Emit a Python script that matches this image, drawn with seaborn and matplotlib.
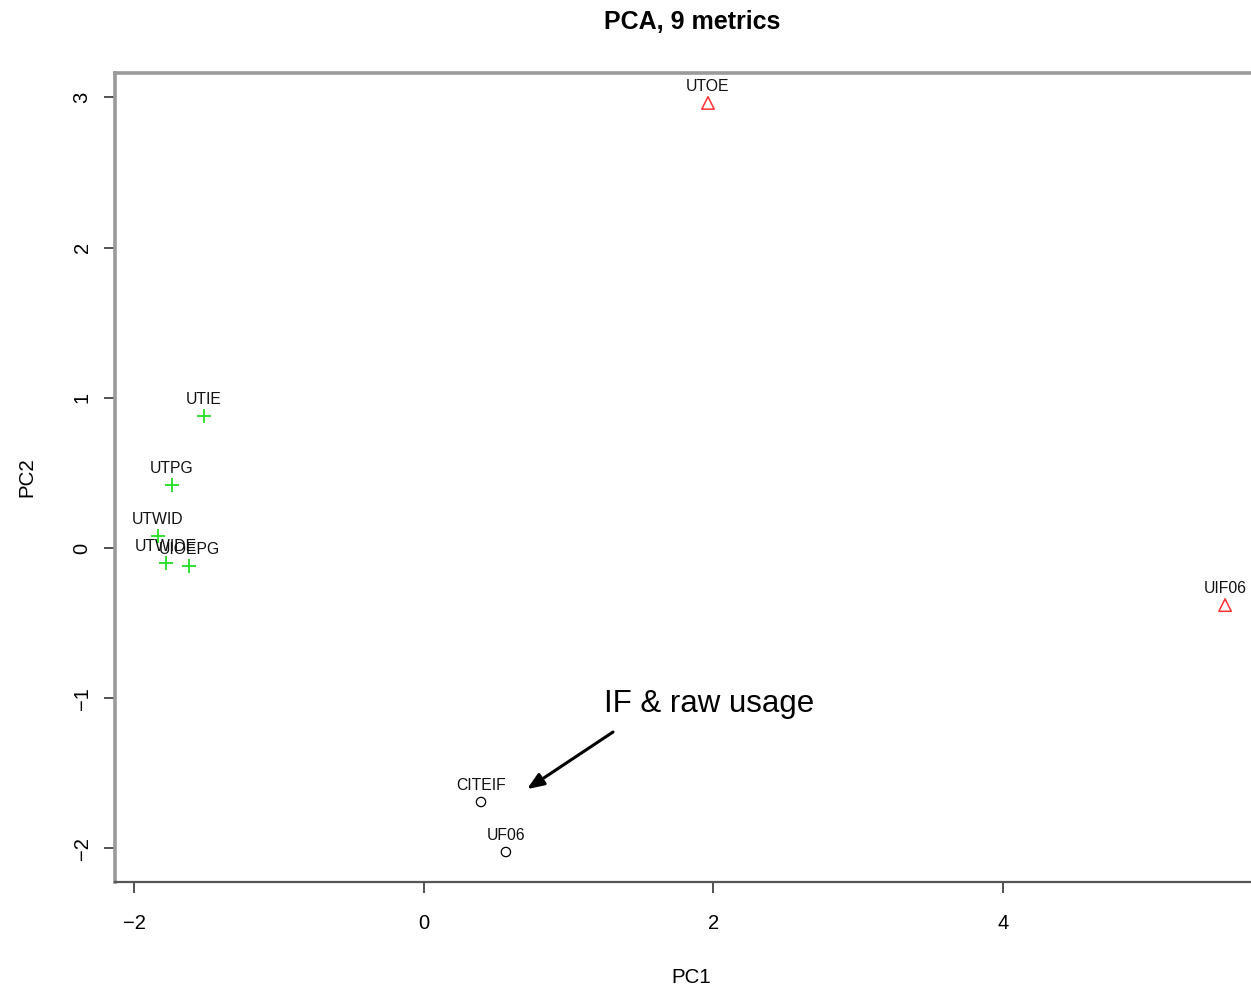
import matplotlib
matplotlib.use("Agg")
import matplotlib.pyplot as plt
import seaborn as sns
import pandas as pd

# ---- data ----
names = ["UTOE", "UIF06", "UTIE", "UTPG", "UTWID", "UTWIDE", "UIOEPG", "CITEIF", "UF06"]
pc1 = [1.962, 5.534, -1.520, -1.741, -1.838, -1.782, -1.623, 0.394, 0.566]
pc2 = [2.963, -0.380, 0.879, 0.419, 0.080, -0.100, -0.120, -1.691, -2.024]
groups = ["usage", "usage", "time", "time", "time", "time", "time", "cite", "cite"]

x_ticks = [-2, 0, 2, 4]
y_ticks = [-2, -1, 0, 1, 2, 3]
annot_text = "IF & raw usage"
annot_text_xy = (1.243, -1.04)
annot_arrow_from = (1.306, -1.225)
annot_arrow_to = (0.712, -1.605)

df = pd.DataFrame({"PC1": pc1, "PC2": pc2, "name": names, "group": groups})

sns.set_style("white")
plt.rcParams["font.family"] = ["Liberation Sans", "DejaVu Sans"]
plt.rcParams["text.color"] = "black"
plt.rcParams["axes.labelcolor"] = "black"
plt.rcParams["xtick.color"] = "black"
plt.rcParams["ytick.color"] = "black"

fig = plt.figure(figsize=(12.51, 9.89), dpi=100)
ax = fig.add_axes([0.0921, 0.1082, 0.9213, 0.818])

palette = {"usage": "#ff3030", "time": "#22dd22", "cite": "#000000"}

for g, sub in df.groupby("group"):
    if g == "time":
        sns.scatterplot(data=sub, x="PC1", y="PC2", ax=ax, marker="+", s=110,
                        color=palette[g], linewidth=1.3, legend=False)
    elif g == "usage":
        sns.scatterplot(data=sub, x="PC1", y="PC2", ax=ax, marker="^", s=80,
                        facecolor="none", edgecolor=palette[g], linewidth=1.1, legend=False)
    else:
        sns.scatterplot(data=sub, x="PC1", y="PC2", ax=ax, marker="o", s=45,
                        facecolor="none", edgecolor=palette[g], linewidth=0.9, legend=False)

for n, xv, yv in zip(names, pc1, pc2):
    ax.annotate(n, (xv, yv), xytext=(0, 6.5), textcoords="offset points",
                ha="center", va="bottom", fontsize=11.3, color="#111111")

ax.annotate("", xy=annot_arrow_to, xytext=annot_arrow_from,
            arrowprops=dict(arrowstyle="-|>,head_length=1.0,head_width=0.4",
                            color="black", lw=2.2, shrinkA=0, shrinkB=0))
ax.text(annot_text_xy[0], annot_text_xy[1], annot_text, fontsize=22.5,
        ha="left", va="center", color="black")

ax.set_xlim(-2.133, 5.829)
ax.set_ylim(-2.2235, 3.1625)
ax.set_xticks(x_ticks)
ax.set_yticks(y_ticks)
ax.set_xticklabels([str(t).replace("-", "\u2212") for t in x_ticks], fontsize=14.5)
ax.set_yticklabels([str(t).replace("-", "\u2212") for t in y_ticks], fontsize=14.5,
                   rotation=90, va="center")
ax.tick_params(axis="both", direction="out", length=8, width=1.3, color="#444444",
               bottom=True, left=True)
ax.tick_params(axis="x", pad=15)
ax.tick_params(axis="y", pad=9)

for side in ["left", "top", "right"]:
    ax.spines[side].set_color("#9a9a9a")
    ax.spines[side].set_linewidth(2.6)
ax.spines["bottom"].set_color("#555555")
ax.spines["bottom"].set_linewidth(1.6)

ax.set_xlabel("PC1", fontsize=14.8, labelpad=25)
ax.set_ylabel("PC2", fontsize=14.8, labelpad=26)
fig.text(0.5535, 0.978, "PCA, 9 metrics", fontsize=18, fontweight="bold",
         ha="center", va="center")

fig.savefig("out.png", dpi=100, facecolor="white")
